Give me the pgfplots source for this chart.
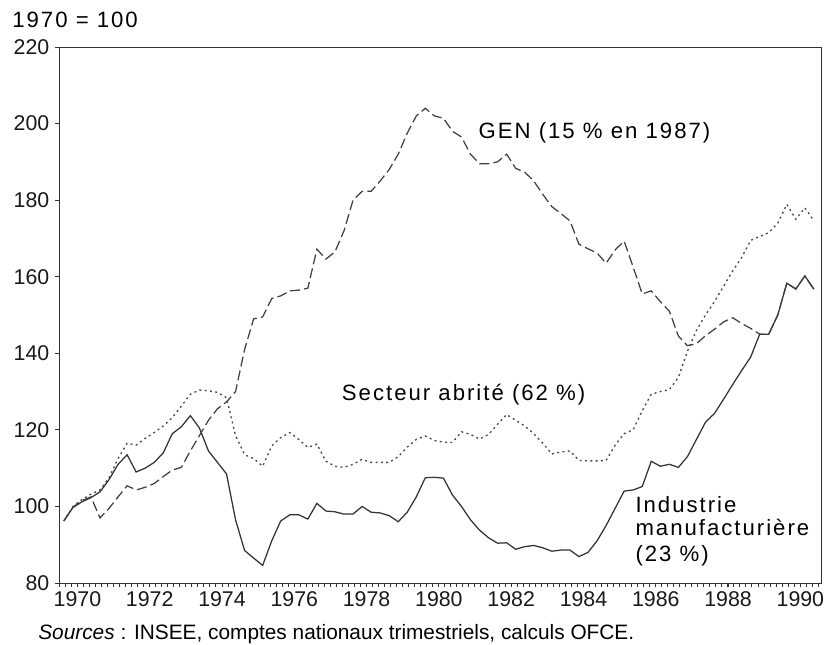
\documentclass[border=0pt]{standalone}
\usepackage{fontspec}
\setmainfont{Liberation Sans}
\newfontfamily\lblfont[LetterSpace=9]{Liberation Sans}
\usepackage{pgfplots}
\pgfplotsset{compat=1.18}
\usepackage{pgfplotstable}

\pgfplotstableread{
yr ind gen abr
1970.125 96.2 96.2 96.2
1970.375 99.7 99.8 100.0
1970.625 101.2 101.5 101.8
1970.875 102.3 102.5 103.2
1971.125 103.8 97.0 104.3
1971.375 107.0 99.5 107.5
1971.625 111.0 102.5 112.5
1971.875 113.5 105.4 116.5
1972.125 109.0 104.3 116.0
1972.375 110.0 105.0 117.8
1972.625 111.5 106.0 119.3
1972.875 114.0 107.8 121.0
1973.125 119.0 109.5 123.2
1973.375 120.8 110.2 126.2
1973.625 123.7 114.5 129.3
1973.875 120.5 118.5 130.4
1974.125 114.5 122.5 130.2
1974.375 111.5 125.5 129.8
1974.625 108.5 127.3 128.4
1974.875 96.5 130.0 118.5
1975.125 88.5 141.0 113.5
1975.375 86.5 149.0 112.5
1975.625 84.6 149.5 110.5
1975.875 91.0 154.3 115.8
1976.125 96.2 155.0 118.0
1976.375 97.8 156.3 119.3
1976.625 97.8 156.5 117.5
1976.875 96.7 157.0 115.4
1977.125 100.8 167.2 116.3
1977.375 98.8 164.6 111.8
1977.625 98.6 166.5 110.5
1977.875 98.0 172.0 110.2
1978.125 98.0 180.0 111.0
1978.375 100.0 182.3 112.3
1978.625 98.5 182.3 111.5
1978.875 98.3 185.0 111.5
1979.125 97.6 188.0 111.5
1979.375 96.0 192.0 113.0
1979.625 98.5 197.5 115.5
1979.875 102.5 202.0 117.5
1980.125 107.5 204.0 118.4
1980.375 107.6 202.0 117.2
1980.625 107.4 201.4 116.8
1980.875 103.0 198.0 116.7
1981.125 100.0 196.5 119.5
1981.375 96.5 192.0 118.8
1981.625 93.8 189.5 117.6
1981.875 91.8 189.5 118.8
1982.125 90.4 190.0 121.5
1982.375 90.5 192.0 124.0
1982.625 88.8 188.3 122.5
1982.875 89.5 187.3 121.0
1983.125 89.8 185.0 119.0
1983.375 89.2 181.5 116.5
1983.625 88.3 178.3 113.7
1983.875 88.6 176.5 114.2
1984.125 88.6 174.6 114.5
1984.375 86.9 168.5 112.0
1984.625 88.0 167.3 111.9
1984.875 91.0 166.2 111.9
1985.125 95.0 163.5 112.0
1985.375 99.5 167.0 116.0
1985.625 104.0 169.3 119.0
1985.875 104.3 162.5 120.0
1986.125 105.2 155.5 125.0
1986.375 111.8 156.3 129.3
1986.625 110.5 153.5 130.0
1986.875 111.0 151.0 130.5
1987.125 110.2 144.5 133.7
1987.375 113.0 142.0 140.5
1987.625 117.5 142.5 146.0
1987.875 122.0 144.6 150.0
1988.125 124.3 146.3 153.5
1988.375 128.0 148.2 157.5
1988.625 131.8 149.3 161.5
1988.875 135.5 147.8 165.0
1989.125 139.0 146.5 169.5
1989.375 145.0 145.0 170.5
1989.625 145.0 145.0 171.5
1989.875 150.0 150.0 174.0
1990.125 158.3 158.3 178.9
1990.375 156.8 156.8 175.0
1990.625 160.2 160.2 178.0
1990.875 156.7 156.7 174.6
}\data

\begin{document}
\begin{tikzpicture}
\useasboundingbox (-35.6pt,-36.6pt) rectangle (464.8pt,349.8pt);
\begin{axis}[
  at={(0pt,0pt)}, anchor=south west,
  scale only axis, width=457.2pt, height=321.6pt,
  xmin=1970, xmax=1991.08, ymin=80, ymax=220,
  axis line style={black!80, line width=0.6pt},
  xtick={1970.5,1972.5,1974.5,1976.5,1978.5,1980.5,1982.5,1984.5,1986.5,1988.5,1990.5},
  xticklabels={1970,1972,1974,1976,1978,1980,1982,1984,1986,1988,1990},
  minor xtick={1970.0,1970.1666667,...,1991.0},
  ytick={80,100,...,220},
  xtick pos=bottom, ytick pos=left,
  tick align=outside,
  x tick style={black!80, line width=0.5pt},
  y tick style={black!80, line width=0.6pt},
  major tick length=2.5pt,
  minor tick length=2.2pt,
  /pgf/number format/assume math mode=true,
  tick label style={font=\fontsize{12.8}{14}\selectfont, text=black!90},
  xticklabel style={yshift=1pt},
  clip=false,
]
\addplot[black!80, line width=0.75pt] table[x=yr,y=ind] {\data};
\addplot[black!75, line width=0.75pt, dash pattern=on 6pt off 2.5pt] table[x=yr,y=gen] {\data};
\addplot[black!70, line width=0.8pt, dash pattern=on 1.2pt off 2pt] table[x=yr,y=abr] {\data};
\node[anchor=base west, inner sep=0pt, text=black, font=\lblfont\fontsize{13.3}{15}\selectfont] at (axis cs:1981.59,196.0) {GEN (15 \% en 1987)};
\node[anchor=base west, inner sep=0pt, text=black, font=\lblfont\fontsize{13.3}{15}\selectfont] at (axis cs:1977.81,127.7) {Secteur abrité (62 \%)};
\node[anchor=base west, inner sep=0pt, text=black, font=\lblfont\fontsize{13.3}{15}\selectfont] at (axis cs:1985.93,98.5) {Industrie};
\node[anchor=base west, inner sep=0pt, text=black, font=\lblfont\fontsize{13.3}{15}\selectfont] at (axis cs:1985.93,92.4) {manufacturière};
\node[anchor=base west, inner sep=0pt, text=black, font=\lblfont\fontsize{13.3}{15}\selectfont] at (axis cs:1985.93,85.6) {(23 \%)};
\end{axis}
\node[anchor=base west, inner sep=0pt, text=black, font=\lblfont\fontsize{13.3}{15}\selectfont] at (-28.4pt,333pt) {1970 = 100};
\node[anchor=base west, inner sep=0pt, text=black, font=\fontsize{12.5}{14}\selectfont] at (-12.8pt,-33.6pt) {\textit{Sources}~: INSEE, comptes nationaux trimestriels, calculs OFCE.};
\end{tikzpicture}
\end{document}
